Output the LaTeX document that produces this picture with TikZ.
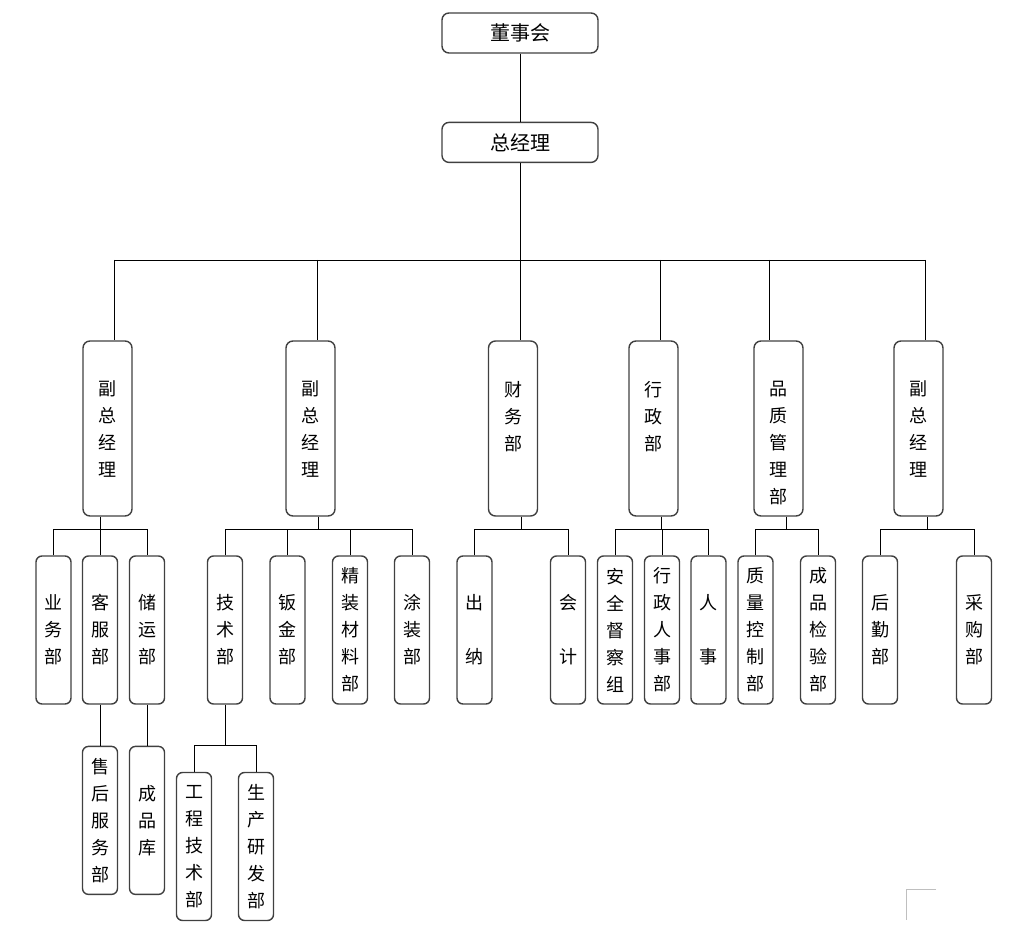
\documentclass[tikz,border=0pt]{standalone}
\usepackage{fontspec}
\newfontfamily\cjk{Noto Sans CJK SC}
\usetikzlibrary{positioning,calc}

% column text of the upper boxes starts near the top
\newcommand{\vcol}[1]{\parbox[c][175pt][t]{30pt}{\centering\vspace*{40pt}#1}}

\begin{document}
\begin{tikzpicture}[x=1pt, y=-1pt, node distance=41pt,
  box/.style={draw=black!75, line width=1.4pt, rounded corners=7pt, inner sep=0pt,
    font=\cjk\fontsize{18}{27}\selectfont},
  head/.style={box, minimum width=156pt, minimum height=40pt, font=\cjk\fontsize{20}{24}\selectfont},
  vp/.style={box, minimum width=49pt, minimum height=175pt},
  dept/.style={box, rounded corners=6pt, align=center, minimum width=35pt, minimum height=148pt},
  link/.style={line width=0.9pt}]
  \useasboundingbox (0,0) rectangle (1025,933);

  \node[head] (boss) at (520,33) {董事会};
  \node[head, below=68pt of boss] (gm) {总经理};

  \node[vp] (vpa) at (107.5,428.5) {\vcol{副\\总\\经\\理}};
  \node[vp] (vpb) at (310.5,428.5) {\vcol{副\\总\\经\\理}};
  \node[vp] (fin) at (513,428.5) {\vcol{财\\务\\部}};
  \node[vp] (adm) at (653.5,428.5) {\vcol{行\\政\\部}};
  \node[vp] (qc) at (778.5,428.5) {\vcol{品\\质\\管\\理\\部}};
  \node[vp] (vpc) at (918.5,428.5) {\vcol{副\\总\\经\\理}};

  \node[dept] (sales) at (53.5,630) {业\\务\\部};
  \node[dept] (service) at (100,630) {客\\服\\部};
  \node[dept] (storage) at (147,630) {储\\运\\部};
  \node[dept] (tech) at (225,630) {技\\术\\部};
  \node[dept] (sheet) at (287.5,630) {钣\\金\\部};
  \node[dept] (finish) at (350,630) {精\\装\\材\\料\\部};
  \node[dept] (paint) at (412,630) {涂\\装\\部};
  \node[dept] (cashier) at (474.5,630) {出\\ \\纳};
  \node[dept] (account) at (568,630) {会\\ \\计};
  \node[dept] (safety) at (615,630) {安\\全\\督\\察\\组};
  \node[dept] (hr) at (662,630) {行\\政\\人\\事\\部};
  \node[dept] (staff) at (708.5,630) {人\\ \\事};
  \node[dept] (qctrl) at (755.5,630) {质\\量\\控\\制\\部};
  \node[dept] (inspect) at (818,630) {成\\品\\检\\验\\部};
  \node[dept] (logistic) at (880,630) {后\\勤\\部};
  \node[dept] (purchase) at (974,630) {采\\购\\部};

  \node[dept, below=of service] (after) {售\\后\\服\\务\\部};
  \node[dept, below=of storage] (stock) {成\\品\\库};
  \node[dept] (eng) at (194,846.5) {工\\程\\技\\术\\部};
  \node[dept] (rnd) at (256,846.5) {生\\产\\研\\发\\部};

  % bus lines
  \coordinate (bus2) at (0,529);
  \coordinate (bus3) at (0,745);
  \coordinate (ja) at (114,260);
  \coordinate (jb) at (317,260);
  \coordinate (jd) at (660,260);
  \coordinate (je) at (769,260);
  \coordinate (jf) at (925,260);

  \draw[link] (boss) -- (gm);
  \draw[link] (gm) -- (gm |- fin.north);
  \draw[link] (ja) -- (jf);
  \foreach \j/\n in {ja/vpa, jb/vpb, jd/adm, je/qc, jf/vpc}
    \draw[link] (\j) -- (\j |- \n.north);

  \foreach \p/\a/\b in {vpa/sales/storage, vpb/tech/paint, fin/cashier/account,
      adm/safety/staff, qc/qctrl/inspect, vpc/logistic/purchase} {
    \coordinate (m) at ($(\a.north)!0.5!(\b.north)$);
    \draw[link] (m |- \p.south) -- (m |- bus2);
    \draw[link] (\a.north) |- (\b.north |- bus2) -- (\b.north);
  }
  \foreach \c in {service, sheet, finish, hr}
    \draw[link] (\c.north) -- (\c.north |- bus2);

  \draw[link] (service) -- (after);
  \draw[link] (storage) -- (stock);
  \draw[link] (tech) -- (tech |- bus3);
  \draw[link] (eng.north) |- (rnd.north |- bus3) -- (rnd.north);

  \draw[black!25, line width=0.8pt] (936,889) -- (906,889) -- (906,920);
\end{tikzpicture}
\end{document}
